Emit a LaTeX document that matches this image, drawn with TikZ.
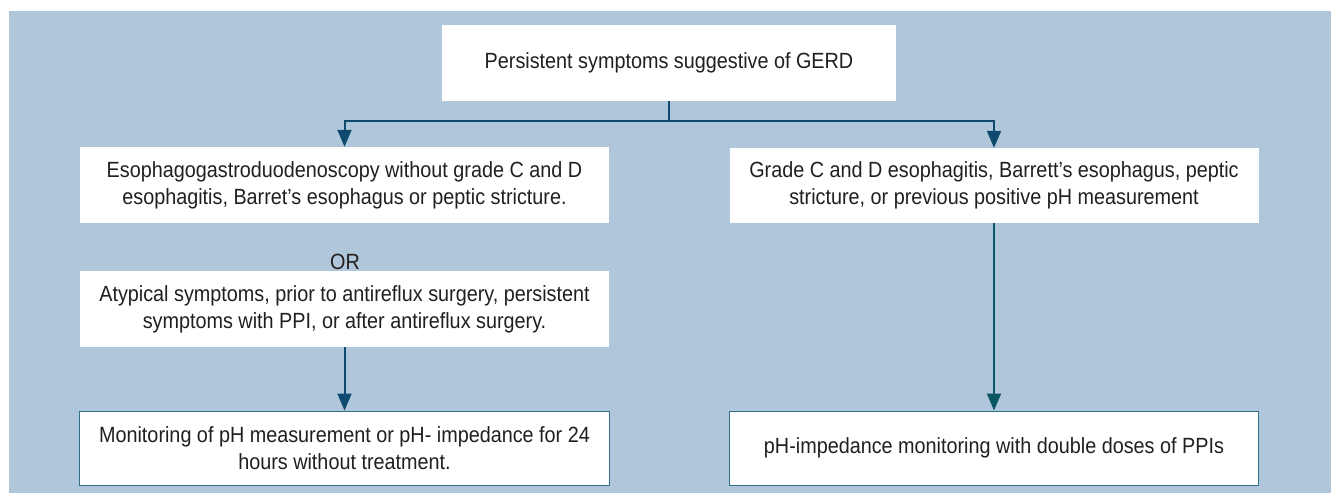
\documentclass[tikz,border=0pt]{standalone}
\usepackage{fontspec}
\setmainfont{Liberation Sans}[FakeStretch=0.9]
\usetikzlibrary{arrows.meta}

\definecolor{panelblue}{HTML}{B0C6DA}
\definecolor{linknavy}{HTML}{0E4A6E}
\definecolor{linkteal}{HTML}{0A5564}
\definecolor{boxedge}{HTML}{2E6E86}
\definecolor{textgray}{HTML}{231F20}

\tikzset{
  box/.style={fill=white, minimum width=529bp, minimum height=76bp, inner sep=0pt,
    align=center, text=textgray, font=\fontsize{22bp}{27bp}\selectfont},
  endbox/.style={box, draw=boxedge, line width=1bp, minimum height=74bp},
  link/.style={draw=linknavy, line width=2bp},
  linkarrow/.style={link, -{Triangle[width=14bp,length=17bp]}},
}

\begin{document}
\begin{tikzpicture}[x=1bp, y=-1bp]

\useasboundingbox (0,0) rectangle (1331,493);
%% the panel
\fill [panelblue] (9,11) rectangle (1331,493);

%% top question
\node [box, minimum width=454bp] (start) at (669,63) {Persistent symptoms suggestive of GERD};

%% left column
\node [box] (endo) at (344.5,185) {Esophagogastroduodenoscopy without grade C and D\\esophagitis, Barret’s esophagus or peptic stricture.};
\node [text=textgray, font=\fontsize{22bp}{27bp}\selectfont] (or) at (345,262) {OR};
\node [box] (atyp) at (344.5,309) {Atypical symptoms, prior to antireflux surgery, persistent\\symptoms with PPI, or after antireflux surgery.};
\node [endbox] (nopatx) at (344.5,448) {Monitoring of pH measurement or pH- impedance for 24\\hours without treatment.};

%% right column
\node [box, minimum height=75bp] (severe) at (994,185.5) {Grade C and D esophagitis, Barrett’s esophagus, peptic\\stricture, or previous positive pH measurement};
\node [endbox] (ontx) at (994,448) {pH-impedance monitoring with double doses of PPIs};

%% the split under the top box
\coordinate (split) at (669,121.5);
\draw [link] (start.south) -- (split);
\draw [linkarrow] (split) -| (endo.north);
\draw [linkarrow] (split) -| (severe.north);

%% down to the monitoring boxes
\draw [linkarrow] (atyp.south) -- (nopatx.north);
\draw [linkarrow, draw=linkteal] (severe.south) -- (ontx.north);

\end{tikzpicture}
\end{document}
